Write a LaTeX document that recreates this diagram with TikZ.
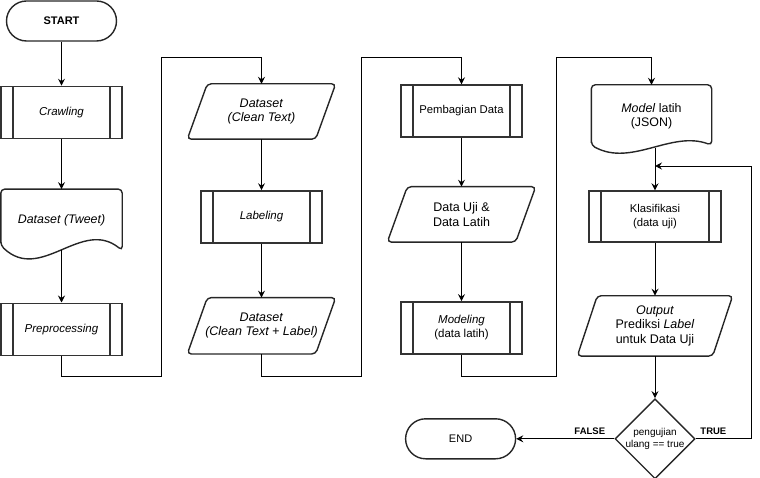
\documentclass[tikz,border=0pt]{standalone}
\usepackage{fontspec}
\setmainfont{Liberation Sans}
\usetikzlibrary{positioning,shapes.geometric,arrows.meta}

\tikzset{
  term/.style={draw=black!85, line width=1.4pt, rounded corners=20pt, minimum width=110pt, minimum height=40pt},
  proc/.style={draw=black!80, line width=1.4pt, minimum width=121pt, minimum height=52pt, align=center, font=\fontsize{11.5}{14}\selectfont,
    path picture={\draw[black!80, line width=1.4pt] ([xshift=12pt]path picture bounding box.north west) -- ([xshift=12pt]path picture bounding box.south west)
      ([xshift=-12pt]path picture bounding box.north east) -- ([xshift=-12pt]path picture bounding box.south east);}},
  io/.style={minimum width=128pt, minimum height=55pt, align=center, font=\fontsize{12.5}{14.3}\selectfont},
  doc/.style={minimum width=121pt, align=center, font=\fontsize{12.4}{14.5}\selectfont},
  outline/.style={draw=black!85, line width=1.4pt, rounded corners=4pt},
  lbl/.style={font=\bfseries\fontsize{9.5}{11}\selectfont},
  arrow/.style={-{Stealth[length=7pt,width=7pt,inset=2.5pt]}, line width=0.9pt}
}

\begin{document}
\begin{tikzpicture}[x=1pt, y=-1pt]
\useasboundingbox (0,0) rectangle (760,478);

% first column
\node[term, font=\bfseries\fontsize{11}{13}\selectfont](start) at (61.5,21) {START};
\node[proc, below=44pt of start](crawl) {\textit{Crawling}};
\node[doc, minimum height=61pt, below=50pt of crawl](tweet) {\textit{Dataset (Tweet)}};
\node[proc, below=52pt of tweet](preproc) {\textit{Preprocessing}};

% second column
\node[io](dsclean) at (261.5,111.5) {\textit{Dataset}\\\textit{(Clean Text)}};
\node[proc, below=51pt of dsclean](labeling) {\textit{Labeling}};
\node[io, minimum height=56pt, below=54pt of labeling](dslabel) {\textit{Dataset}\\\textit{(Clean Text + Label)}};

% third column
\node[proc, font=\fontsize{11.3}{14}\selectfont](split) at (461.5,111) {Pembagian Data};
\node[io, below=49pt of split](uji) {Data Uji \&\\Data Latih};
\node[proc, below=59pt of uji](modeling) {\textit{Modeling}\\(data latih)};

% fourth column
\node[doc, minimum width=120pt, minimum height=63pt](model) at (651.5,116.5) {\textit{Model} latih\\(JSON)};
\node[proc, minimum width=132pt, minimum height=51pt, font=\fontsize{11.3}{14}\selectfont](klas) at (655,216.5) {Klasifikasi\\(data uji)};
\node[io, minimum width=135pt, minimum height=60pt, below=53pt of klas](output) {\textit{Output}\\Prediksi \textit{Label}\\untuk Data Uji};
\node[diamond, draw=black!85, line width=1.4pt, minimum width=80pt, minimum height=80pt, inner sep=0pt, below=42pt of output,
  label={[font=\fontsize{10}{11.3}\selectfont, align=center]center:pengujian\\ulang == true}](dec) {};
\node[term, font=\fontsize{11}{13}\selectfont, left=98pt of dec](end) {END};
\coordinate (loopin) at (655,166);

% parallelograms and documents
\foreach \n in {dsclean,dslabel,uji,output}
  \draw[outline] ([xshift=-10pt]\n.south west) -- ([xshift=-10pt]\n.south east) -- ([xshift=10pt]\n.north east) -- ([xshift=10pt]\n.north west) -- cycle;
\draw[outline] ([yshift=5pt]tweet.south west) -- (tweet.north west) -- (tweet.north east) -- (tweet.south east)
  .. controls ([xshift=81pt,yshift=33pt]tweet.south west) and ([xshift=40pt,yshift=-33pt]tweet.south west) .. ([yshift=5pt]tweet.south west) -- cycle;
\draw[outline] ([yshift=3pt]model.south west) -- (model.north west) -- (model.north east) -- ([yshift=3pt]model.south east)
  .. controls ([xshift=80pt,yshift=18pt]model.south west) and ([xshift=40pt,yshift=-19pt]model.south west) .. ([yshift=3pt]model.south west) -- cycle;

% connectors
\draw[arrow] (start) -- (crawl);
\draw[arrow] (crawl) -- (tweet);
\draw[arrow] (tweet) -- (preproc);
\draw[arrow] (preproc.south) |- (161,376) -- (161,57) -| (dsclean.north);
\draw[arrow] (dsclean) -- (labeling);
\draw[arrow] (labeling) -- (dslabel);
\draw[arrow] (dslabel.south) |- (361,376) -- (361,57) -| (split.north);
\draw[arrow] (split) -- (uji);
\draw[arrow] (uji) -- (modeling);
\draw[arrow] (modeling.south) |- (556,376) -- (556,57) -| (model.north);
\draw[arrow] (model.south -| klas.north) -- (klas);
\draw[arrow] (klas) -- (output);
\draw[arrow] (output) -- (dec);
\draw[arrow] (dec) -- node[lbl, above, pos=0.25]{FALSE} (end);
\draw[arrow] (dec.east) -| node[lbl, above, pos=0.16]{TRUE} (751,166) -- (loopin);
\end{tikzpicture}
\end{document}
